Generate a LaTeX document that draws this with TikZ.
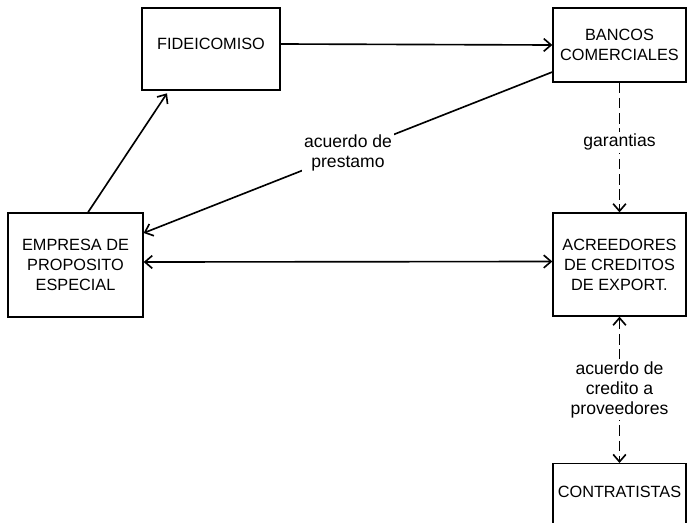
\documentclass[tikz,border=0pt]{standalone}
\usepackage{fontspec}
\setmainfont{Liberation Sans}
\usetikzlibrary{arrows.meta,calc}

\begin{document}
\begin{tikzpicture}[x=0.03cm,y=-0.03cm,
  flowbox/.style={draw,line width=1.1pt,align=center,inner sep=2pt,
    font=\fontsize{13.9}{17}\selectfont},
  flowline/.style={line width=1.4pt,-{Straight Barb[length=2.2mm,width=3.8mm]}},
  flowboth/.style={line width=1.4pt,{Straight Barb[length=2.2mm,width=3.8mm]}-{Straight Barb[length=2.2mm,width=3.8mm]}},
  flowdash/.style={dash pattern=on 9pt off 4pt},
  flowlabel/.style={fill=white,align=center,inner sep=2pt,
    font=\fontsize{15}{17}\selectfont}
]
  \useasboundingbox (0,0) rectangle (687,522);
  % Boxes
  \node[flowbox,minimum width=4.14cm,minimum height=2.46cm,text height=0.4cm,text depth=0.4cm]
    (fide) at (211,49) {FIDEICOMISO};
  \node[flowbox,minimum width=3.99cm,minimum height=2.22cm]
    (bancos) at (619.5,45) {BANCOS\\COMERCIALES};
  \node[flowbox,minimum width=4.05cm,minimum height=3.12cm]
    (empresa) at (75.5,265) {EMPRESA DE\\PROPOSITO\\ESPECIAL};
  \node[flowbox,minimum width=3.99cm,minimum height=3.09cm]
    (acreed) at (619.5,264.5) {ACREEDORES\\DE CREDITOS\\DE EXPORT.};
  \node[flowbox,minimum width=3.99cm,minimum height=2.46cm,anchor=north,text height=0.4cm,text depth=0.8cm]
    (contrat) at (619.5,463) {CONTRATISTAS};
  % Solid connectors
  \draw[flowline] ([yshift=0.15cm]fide.east) -- (bancos.west);
  \draw[flowline] ([xshift=0.375cm]empresa.north) -- ([xshift=-1.32cm,yshift=-0.08cm]fide.south);
  \draw[flowline] ([yshift=-0.81cm]bancos.west) -- ([yshift=0.96cm]empresa.east)
    node[flowlabel,midway] (prestamo) {acuerdo de\\prestamo};
  \draw[flowboth] ([yshift=0.09cm]empresa.east) -- ([yshift=0.09cm]acreed.west);
  % Dashed connectors
  \draw[flowline,flowdash] (bancos.south) -- (acreed.north)
    node[flowlabel,pos=0.46] (garant) {garantias};
  \draw[flowboth,flowdash] (acreed.south) -- (contrat.north)
    node[flowlabel,midway] (credito) {acuerdo de\\credito a\\proveedores};
\end{tikzpicture}
\end{document}
